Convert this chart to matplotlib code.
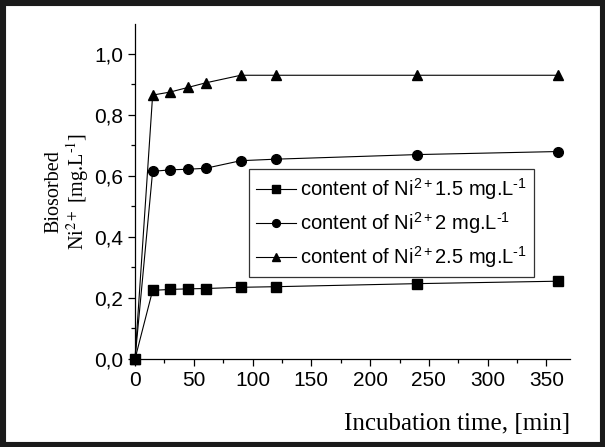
import matplotlib
matplotlib.use("Agg")
import matplotlib.pyplot as plt
from matplotlib.patches import Rectangle
from matplotlib.ticker import MultipleLocator, FuncFormatter

time_min = [0, 15, 30, 45, 60, 90, 120, 240, 360]
ni_15 = [0.0, 0.225, 0.228, 0.230, 0.231, 0.235, 0.237, 0.247, 0.255]
ni_20 = [0.0, 0.615, 0.620, 0.622, 0.625, 0.650, 0.655, 0.670, 0.680]
ni_25 = [0.0, 0.865, 0.875, 0.890, 0.905, 0.930, 0.930, 0.930, 0.930]
labels = [r"content of Ni$^{2+}$1.5 mg.L$^{\text{-}1}$",
          r"content of Ni$^{2+}$2 mg.L$^{\text{-}1}$",
          r"content of Ni$^{2+}$2.5 mg.L$^{\text{-}1}$"]
markers = ["s", "o", "^"]

plt.rcParams['font.family'] = ['Liberation Sans', 'DejaVu Sans']
plt.rcParams['mathtext.fontset'] = 'custom'
plt.rcParams['mathtext.rm'] = 'Liberation Sans'
plt.rcParams['mathtext.it'] = 'Liberation Sans'

fig = plt.figure(figsize=(6.05, 4.47), dpi=100)
ax = fig.add_axes([135/605, 88/447, 435/605, 335/447])

for y, m, lab in zip([ni_15, ni_20, ni_25], markers, labels):
    ax.plot(time_min, y, marker=m, color='black', lw=0.8,
            markersize=7 if m != 's' else 6.5, label=lab, clip_on=False)

ax.set_xlim(0, 370)
ax.set_ylim(0, 1.098)
ax.spines['top'].set_visible(False)
ax.spines['right'].set_visible(False)
ax.xaxis.set_major_locator(MultipleLocator(50))
ax.xaxis.set_minor_locator(MultipleLocator(25))
ax.yaxis.set_major_locator(MultipleLocator(0.2))
ax.yaxis.set_minor_locator(MultipleLocator(0.1))
ax.yaxis.set_major_formatter(FuncFormatter(lambda v, p: f"{v:.1f}".replace('.', ',')))
ax.tick_params(which='major', direction='out', length=5, width=0.9, labelsize=15)
ax.tick_params(which='minor', direction='out', length=3, width=0.9)
for s in ax.spines.values():
    s.set_linewidth(0.9)

ax.set_ylabel("Biosorbed\n" + r"Ni$^{2+}$ [mg.L$^{\text{-}1}$]", family='Liberation Serif',
              math_fontfamily='stix', fontsize=14.5, linespacing=1.05, labelpad=2)
ax.set_xlabel("Incubation time, [min]", family='Liberation Serif', fontsize=18,
              loc='right', labelpad=17)

leg = ax.legend(loc='upper left', bbox_to_anchor=(0.262, 0.566), fontsize=14.5,
                frameon=True, fancybox=False, edgecolor='black', borderpad=0.35,
                handlelength=2.0, handletextpad=0.2, labelspacing=0.4,
                borderaxespad=0, markerscale=0.8)
leg.get_frame().set_linewidth(0.9)

fig.patches.append(Rectangle((0.0, 0.0), 1, 1, transform=fig.transFigure,
                             fill=False, edgecolor='#1a1a1a', linewidth=8))

fig.savefig("out.png", dpi=100)
